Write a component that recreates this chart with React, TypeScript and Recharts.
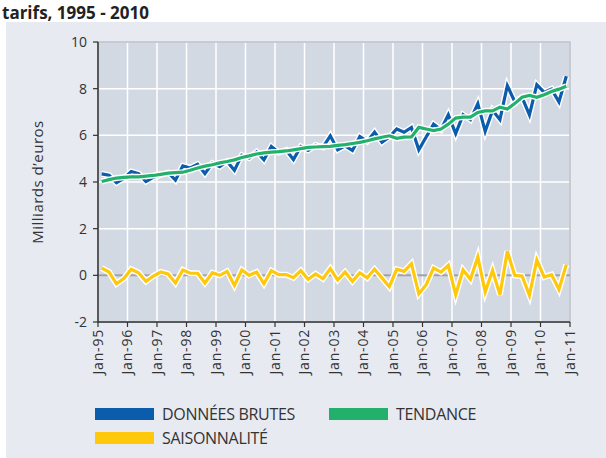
import React from "react";
import { LineChart, Line, XAxis, YAxis, CartesianGrid, ReferenceLine, ReferenceArea } from "recharts";

const yearLabels = ["Jan-95","Jan-96","Jan-97","Jan-98","Jan-99","Jan-00","Jan-01","Jan-02","Jan-03","Jan-04","Jan-05","Jan-06","Jan-07","Jan-08","Jan-09","Jan-10","Jan-11"];
const yTicks = [-2, 0, 2, 4, 6, 8, 10];

const brutes = [4.35,4.29,3.97,4.15,4.45,4.36,4.02,4.2,4.3,4.4,
  4.08,4.69,4.6,4.76,4.36,4.8,4.66,4.88,4.5,5.15,
  5.03,5.29,4.95,5.52,5.26,5.37,4.96,5.52,5.36,5.58,
  5.49,5.98,5.38,5.55,5.35,5.95,5.74,6.14,5.7,5.93,
  6.27,6.13,6.34,5.38,5.93,6.48,6.24,6.88,6.07,6.88,
  6.67,7.36,6.17,7.07,6.67,8.13,7.45,7.63,6.88,8.17,
  7.84,7.98,7.43,8.53];

const tendance = [4.02,4.1,4.17,4.2,4.22,4.22,4.25,4.28,4.33,4.38,
  4.4,4.42,4.5,4.6,4.68,4.74,4.82,4.88,4.95,5.05,
  5.12,5.2,5.25,5.28,5.3,5.33,5.38,5.43,5.48,5.5,
  5.52,5.53,5.57,5.6,5.65,5.7,5.77,5.85,5.92,5.98,
  5.87,5.92,5.93,6.34,6.27,6.2,6.27,6.48,6.74,6.78,
  6.78,6.98,7.05,7.05,7.21,7.13,7.36,7.63,7.71,7.63,
  7.74,7.88,7.98,8.1];

const saisonnalite = [0.31,0.14,-0.36,-0.14,0.26,0.11,-0.26,-0.03,0.14,0.06,
  -0.33,0.23,0.09,0.09,-0.33,0.11,0.0,0.17,-0.43,0.23,
  0.0,0.14,-0.36,0.2,0.03,0.03,-0.1,0.2,-0.17,0.06,
  -0.14,0.29,-0.2,0.14,-0.26,0.11,-0.11,0.26,-0.11,-0.49,
  0.26,0.17,0.5,-0.79,-0.4,0.31,0.14,0.43,-0.83,0.23,
  -0.17,0.79,-0.71,0.21,-0.83,1.03,0.0,-0.03,-0.86,0.66,
  -0.07,0.03,-0.6,0.46];

const QUARTERS_PER_YEAR = 4;
const data = brutes.map((v, i) => ({
  t: i + 0.5,
  brutes: v,
  tendance: tendance[i],
  saison: saisonnalite[i],
}));
const xTicks = yearLabels.map((_, i) => i * QUARTERS_PER_YEAR);

const BLUE = "#0b5cab";
const GREEN = "#23b06b";
const YELLOW = "#ffc80b";
const FONT = "'Open Sans', 'Noto Sans', sans-serif";
const TXT = "#333";

const XTick = (props: any) => {
  const { x, y, payload } = props;
  const label = yearLabels[Math.round(payload.value / QUARTERS_PER_YEAR)];
  return (
    <g transform={`translate(${x},${y})`}>
      <text transform="rotate(-90)" textAnchor="end" dy="0.35em" fill={TXT} fontSize={14} letterSpacing={0.8} fontFamily={FONT}>
        {label}
      </text>
    </g>
  );
};

const YLabel = (props: any) => {
  const vb = props.viewBox || {};
  const cx = 31;
  const cy = (vb.y || 0) + (vb.height || 0) / 2;
  return (
    <text x={cx} y={cy} transform={`rotate(-90, ${cx}, ${cy})`} textAnchor="middle" dominantBaseline="central" fill={TXT} fontSize={15} letterSpacing={0.5} fontFamily={FONT}>
      Milliards d’euros
    </text>
  );
};

const legendItems = [
  { label: "DONNÉES BRUTES", color: BLUE, left: 95, top: 408 },
  { label: "TENDANCE", color: GREEN, left: 329, top: 408 },
  { label: "SAISONNALITÉ", color: YELLOW, left: 95, top: 432 },
];

export default function App() {
  return (
    <div style={{ position: "absolute", left: 0, top: 0, width: 606, height: 458, background: "#fff", overflow: "hidden" }}>
      <div style={{ position: "absolute", left: 6, top: 22, width: 600, height: 436, background: "#e7eaf1" }}>
        <LineChart width={600} height={436} data={data} margin={{ top: 20, right: 36, bottom: 0, left: 0 }}>
          <CartesianGrid stroke="#ffffff" strokeWidth={1.5} fill="#d3d9e3" />
          <ReferenceArea x1={0} x2={64} y1={-2} y2={10} fill="none" stroke="#b8bcc4" strokeWidth={1.5} />
          <ReferenceLine y={0} stroke="#9da1a9" strokeWidth={2} />
          <XAxis
            type="number"
            dataKey="t"
            domain={[0, 64]}
            ticks={xTicks}
            interval={0}
            height={136}
            tick={<XTick />}
            tickSize={5}
            tickMargin={2}
            stroke="#333"
            strokeWidth={1.5}
            tickLine={{ stroke: "#333", strokeWidth: 1.2 }}
            allowDataOverflow
          />
          <YAxis
            type="number"
            domain={[-2, 10]}
            ticks={yTicks}
            interval={0}
            width={92}
            tickSize={5}
            tickMargin={6}
            stroke="#333"
            strokeWidth={1.5}
            tickLine={{ stroke: "#333", strokeWidth: 1.2 }}
            tick={{ fill: TXT, fontSize: 14, fontFamily: FONT }}
            label={<YLabel />}
          />
          <Line type="linear" dataKey="saison" stroke="#ffffff" strokeWidth={6} dot={false} activeDot={false} isAnimationActive={false} />
          <Line type="linear" dataKey="saison" stroke={YELLOW} strokeWidth={3.2} dot={false} activeDot={false} isAnimationActive={false} />
          <Line type="linear" dataKey="brutes" stroke="#ffffff" strokeWidth={6} dot={false} activeDot={false} isAnimationActive={false} />
          <Line type="linear" dataKey="brutes" stroke={BLUE} strokeWidth={3.2} dot={false} activeDot={false} isAnimationActive={false} />
          <Line type="linear" dataKey="tendance" stroke="#ffffff" strokeWidth={6} dot={false} activeDot={false} isAnimationActive={false} />
          <Line type="linear" dataKey="tendance" stroke={GREEN} strokeWidth={3.2} dot={false} activeDot={false} isAnimationActive={false} />
        </LineChart>
      </div>
      <svg width={606} height={30} style={{ position: "absolute", left: 0, top: 0, overflow: "visible" }}>
        <text x={2} y={18.5} fontSize={17} fontWeight={700} fill="#222" fontFamily={FONT}>
          tarifs, 1995 - 2010
        </text>
      </svg>
      {legendItems.map((it) => (
        <div key={it.label} style={{ position: "absolute", left: it.left, top: it.top, height: 12, display: "flex", alignItems: "center" }}>
          <div style={{ width: 59, height: 12, background: it.color }} />
          <span style={{ marginLeft: 8, fontFamily: FONT, fontSize: 16, letterSpacing: -0.3, color: TXT, lineHeight: "12px", whiteSpace: "nowrap" }}>
            {it.label}
          </span>
        </div>
      ))}
    </div>
  );
}
